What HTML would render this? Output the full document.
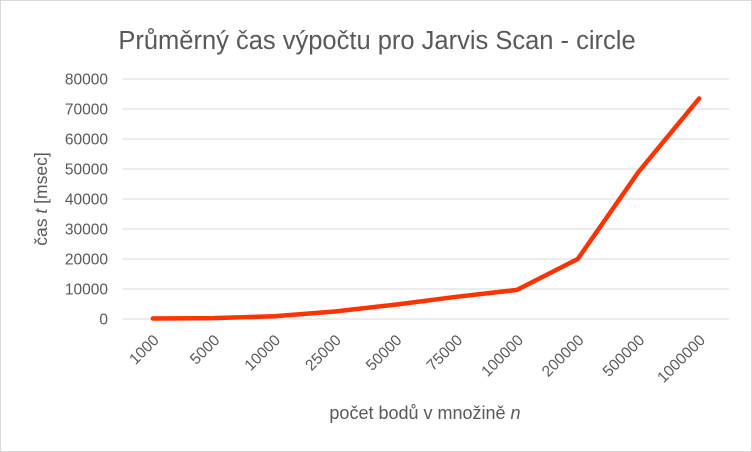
<!DOCTYPE html>
<html><head><meta charset="utf-8"><style>
body{margin:0;background:#fff}
svg{display:block;font-family:"Liberation Sans",sans-serif}
</style></head><body>
<svg id="c" width="752" height="452">
<rect x="0.5" y="0.5" width="751" height="451" fill="#fff" stroke="#d9d9d9"/>
<text x="377" y="49" text-anchor="middle" font-size="25.5" fill="#595959">Průměrný čas výpočtu pro Jarvis Scan - circle</text>
<text transform="translate(47,199) rotate(-90)" text-anchor="middle" font-size="17.5" fill="#595959">čas <tspan font-style="italic">t</tspan> [msec]</text>
<text x="425" y="419" text-anchor="middle" font-size="18" fill="#595959">počet bodů v množině <tspan font-style="italic">n</tspan></text>
<g id="grid"></g><g id="yl"></g><g id="xl"></g><g id="ser"></g>
</svg>
<script>
const categories=["1000","5000","10000","25000","50000","75000","100000","200000","500000","1000000"];
const values=[150,300,900,2500,4800,7400,9700,20000,49000,73500];
const yTicks=[0,10000,20000,30000,40000,50000,60000,70000,80000];
const ns="http://www.w3.org/2000/svg";
const x0=122.5,x1=729.5,yb=319,yt=79,ymax=80000;
const bw=(x1-x0)/categories.length;
const X=i=>x0+bw*(i+0.5);
const Y=v=>yb-(v/ymax)*(yb-yt);
function mk(t,a,p){const e=document.createElementNS(ns,t);for(const k in a)e.setAttribute(k,a[k]);p.appendChild(e);return e;}
const g=document.getElementById('grid'),yl=document.getElementById('yl'),xl=document.getElementById('xl'),s=document.getElementById('ser');
yTicks.forEach(v=>{
 const l=mk('line',{x1:x0,x2:x1,y1:Y(v),y2:Y(v),stroke:'#d9d9d9','stroke-width':1},g);
 
 
 const t=mk('text',{x:108,y:Y(v)+5.5,'text-anchor':'end','font-size':15.5,fill:'#595959'},yl);
 t.textContent=v;
 
 
});
categories.forEach((c,i)=>{
 const t=mk('text',{transform:`translate(${X(i)+7},${yb+22}) rotate(-45)`,'text-anchor':'end','font-size':15.5,fill:'#595959'},xl);
 t.textContent=c;
 
 
});
const p=mk('polyline',{points:values.map((v,i)=>X(i)+','+Y(v)).join(' '),fill:'none',stroke:'#ff3300','stroke-width':4.5,'stroke-linejoin':'round','stroke-linecap':'round'},s);


</script>
</body></html>
